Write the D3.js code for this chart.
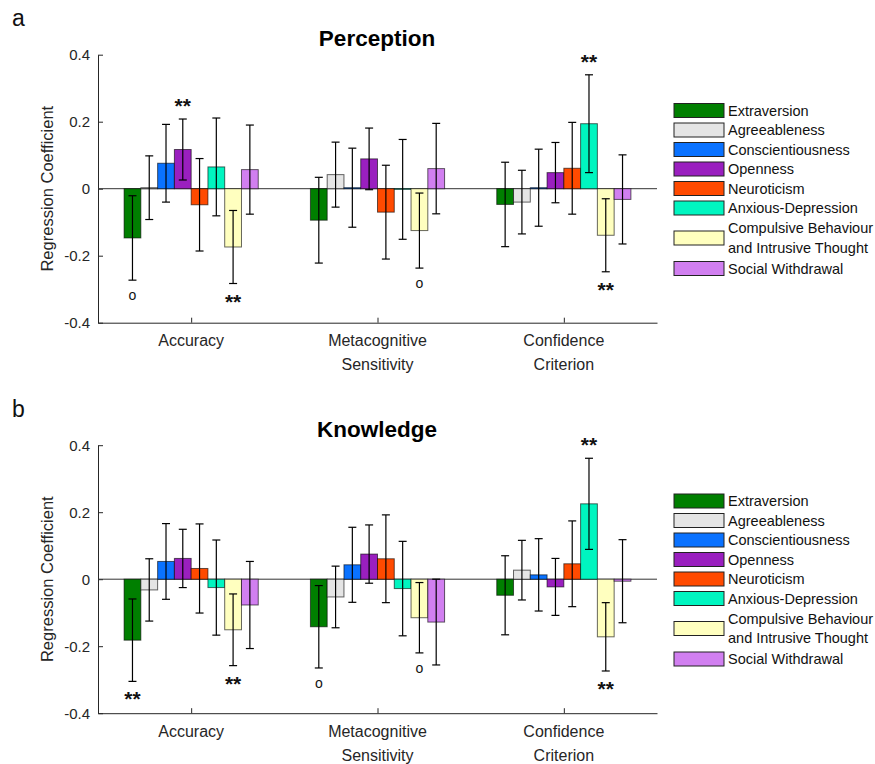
<!DOCTYPE html>
<html>
<head>
<meta charset="utf-8">
<script src="https://cdn.jsdelivr.net/npm/d3@7"></script>
<style>
  body { margin: 0; background: white; }
  text { font-family: "Liberation Sans", Arial, sans-serif; fill: #262626; }
</style>
</head>
<body>
<div id="chart"></div>
<script>
var traits = ["Extraversion", "Agreeableness", "Conscientiousness", "Openness",
  "Neuroticism", "Anxious-Depression", "Compulsive Behaviour and Intrusive Thought", "Social Withdrawal"];
var legendLines = [["Extraversion"], ["Agreeableness"], ["Conscientiousness"], ["Openness"],
  ["Neuroticism"], ["Anxious-Depression"], ["Compulsive Behaviour", "and Intrusive Thought"], ["Social Withdrawal"]];
var traitColors = ["#007f00", "#e5e5e5", "#0a72ff", "#9a1fbf", "#ff4a00", "#00f5c0", "#ffffbf", "#d17ff0"];

var categories = [["Accuracy"], ["Metacognitive", "Sensitivity"], ["Confidence", "Criterion"]];
var yTicks = [-0.4, -0.2, 0, 0.2, 0.4];
var yTickLabels = ["-0.4", "-0.2", "0", "0.2", "0.4"];

// rows = categories, columns = traits
var perceptionValues = [
  [-0.147, 0.003, 0.076, 0.117, -0.048, 0.065, -0.174, 0.057],
  [-0.094, 0.042, 0.003, 0.089, -0.070, -0.002, -0.125, 0.060],
  [-0.047, -0.040, 0.003, 0.048, 0.061, 0.194, -0.139, -0.032]];
var perceptionErrors = [
  [0.126, 0.095, 0.116, 0.091, 0.138, 0.146, 0.109, 0.133],
  [0.128, 0.097, 0.118, 0.092, 0.140, 0.149, 0.112, 0.135],
  [0.126, 0.095, 0.115, 0.090, 0.137, 0.146, 0.109, 0.133]];
var perceptionMarks = [
  ["o", "", "", "**", "", "", "**", ""],
  ["", "", "", "", "", "", "o", ""],
  ["", "", "", "", "", "**", "**", ""]];

var knowledgeValues = [
  [-0.182, -0.032, 0.053, 0.062, 0.032, -0.025, -0.151, -0.077],
  [-0.142, -0.053, 0.043, 0.075, 0.061, -0.028, -0.115, -0.128],
  [-0.048, 0.027, 0.013, -0.023, 0.046, 0.225, -0.172, -0.006]];
var knowledgeErrors = [
  [0.123, 0.093, 0.113, 0.087, 0.133, 0.142, 0.107, 0.130],
  [0.123, 0.092, 0.112, 0.087, 0.131, 0.141, 0.105, 0.128],
  [0.118, 0.089, 0.108, 0.085, 0.128, 0.136, 0.102, 0.124]];
var knowledgeMarks = [
  ["**", "", "", "", "", "", "**", ""],
  ["o", "", "", "", "", "", "o", ""],
  ["", "", "", "", "", "**", "**", ""]];

var width = 875;
var height = 764;
var barStep = 0.09;

var svg = d3.select("#chart").append("svg")
  .attr("width", width)
  .attr("height", height);

function drawPanel(offsetY, letter, title, values, errors, marks) {
  var g = svg.append("g").attr("transform", "translate(0," + offsetY + ")");

  var x = d3.scaleLinear().domain([0.5, 3.5]).range([98, 657]);
  var y = d3.scaleLinear().domain([-0.4, 0.4]).range([322.7, 54.7]);
  var barW = x(barStep) - x(0);

  g.append("text").attr("x", 12).attr("y", 26)
    .style("font-size", "23px").style("fill", "#111")
    .text(letter);

  g.append("text").attr("x", 377).attr("y", 46)
    .attr("text-anchor", "middle")
    .style("font-size", "22.5px").style("font-weight", "bold").style("fill", "#000")
    .text(title);

  // axes, ticks pointing inward like matlab
  var yAxis = g.append("g").attr("transform", "translate(98,0)")
    .call(d3.axisLeft(y).tickValues(yTicks)
      .tickFormat(function(d, i) { return yTickLabels[i]; })
      .tickSizeInner(-5).tickSizeOuter(0).tickPadding(8));
  var xAxis = g.append("g").attr("transform", "translate(0," + y(-0.4) + ")")
    .call(d3.axisBottom(x).tickValues([1, 2, 3]).tickFormat("")
      .tickSizeInner(-5).tickSizeOuter(0));
  g.selectAll(".domain, .tick line").attr("stroke", "#262626");
  yAxis.selectAll("text").style("font-size", "15px").style("fill", "#262626").attr("font-family", null);

  g.append("text")
    .attr("transform", "translate(53," + y(0) + ") rotate(-90)")
    .attr("text-anchor", "middle")
    .style("font-size", "16.5px")
    .text("Regression Coefficient");

  categories.forEach(function(lines, c) {
    var t = g.append("text").attr("text-anchor", "middle").style("font-size", "16px");
    lines.forEach(function(line, k) {
      t.append("tspan").attr("x", x(c + 1)).attr("y", 346 + k * 24).text(line);
    });
  });

  // zero line
  g.append("line")
    .attr("x1", x(0.5)).attr("x2", x(3.5))
    .attr("y1", y(0)).attr("y2", y(0))
    .attr("stroke", "#333").attr("stroke-width", 1);

  var bars = [];
  values.forEach(function(row, c) {
    row.forEach(function(v, i) {
      bars.push({cat: c + 1, i: i, value: v, err: errors[c][i], mark: marks[c][i]});
    });
  });

  function center(d) { return x(d.cat + (d.i - 3.5) * barStep); }

  g.selectAll("rect.bar")
    .data(bars)
    .enter()
    .append("rect")
    .attr("class", "bar")
    .attr("x", function(d) { return center(d) - barW / 2; })
    .attr("width", barW)
    .attr("y", function(d) { return y(Math.max(0, d.value)); })
    .attr("height", function(d) { return Math.abs(y(d.value) - y(0)); })
    .attr("fill", function(d) { return traitColors[d.i]; })
    .attr("stroke", "#000").attr("stroke-opacity", 0.6).attr("stroke-width", 1);

  var eb = g.selectAll("g.err")
    .data(bars)
    .enter()
    .append("g").attr("class", "err")
    .attr("stroke", "#000").attr("stroke-width", 1.2);
  eb.append("line")
    .attr("x1", center).attr("x2", center)
    .attr("y1", function(d) { return y(d.value + d.err); })
    .attr("y2", function(d) { return y(d.value - d.err); });
  eb.append("line")
    .attr("x1", function(d) { return center(d) - 4; }).attr("x2", function(d) { return center(d) + 4; })
    .attr("y1", function(d) { return y(d.value + d.err); })
    .attr("y2", function(d) { return y(d.value + d.err); });
  eb.append("line")
    .attr("x1", function(d) { return center(d) - 4; }).attr("x2", function(d) { return center(d) + 4; })
    .attr("y1", function(d) { return y(d.value - d.err); })
    .attr("y2", function(d) { return y(d.value - d.err); });

  // significance marks
  g.selectAll("text.mark")
    .data(bars.filter(function(d) { return d.mark != ""; }))
    .enter()
    .append("text").attr("class", "mark")
    .attr("text-anchor", "middle")
    .attr("x", center)
    .attr("y", function(d) {
      var star = d.mark == "**";
      if (d.value > 0) return y(d.value + d.err) - 6;
      return y(d.value - d.err) + (star ? 25 : 20);
    })
    .style("font-size", function(d) { return d.mark == "**" ? "21px" : "14px"; })
    .style("font-weight", function(d) { return d.mark == "**" ? "bold" : "normal"; })
    .style("fill", "#111")
    .text(function(d) { return d.mark; });

  // legend
  var rowY = [110.5, 130, 149.5, 169, 188.5, 208, 238, 268.5];
  var leg = g.append("g");
  legendLines.forEach(function(lines, i) {
    leg.append("rect")
      .attr("x", 674).attr("y", rowY[i] - 7)
      .attr("width", 50).attr("height", 14)
      .attr("fill", traitColors[i])
      .attr("stroke", "#222").attr("stroke-width", 1);
    lines.forEach(function(line, k) {
      leg.append("text")
        .attr("x", 728)
        .attr("y", rowY[i] + 5 + (k - (lines.length - 1) / 2) * 19.5)
        .style("font-size", "14.5px").style("fill", "#111")
        .text(line);
    });
  });
}

drawPanel(0, "a", "Perception", perceptionValues, perceptionErrors, perceptionMarks);
drawPanel(390.5, "b", "Knowledge", knowledgeValues, knowledgeErrors, knowledgeMarks);
</script>
</body>
</html>
